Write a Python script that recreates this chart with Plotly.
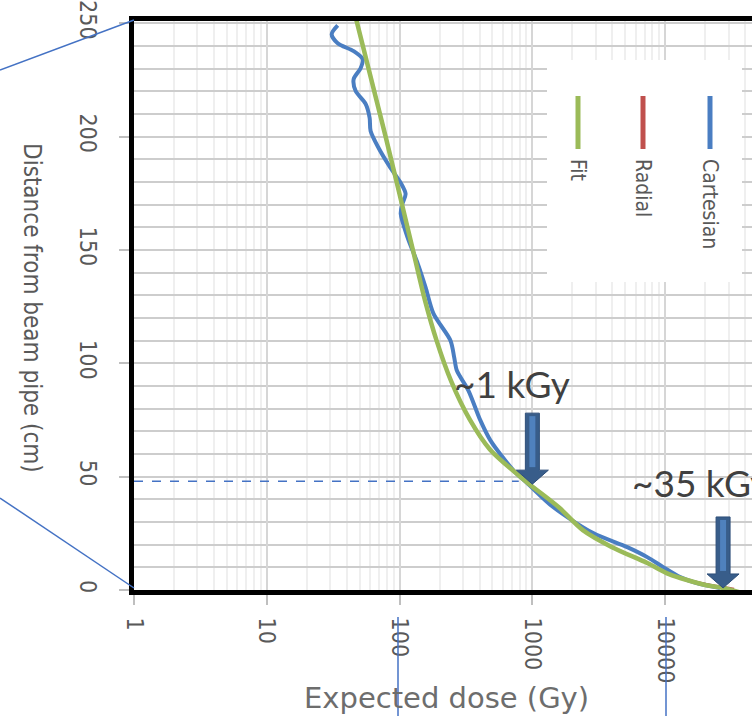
import math
import plotly.graph_objects as go

# ---------------- data ----------------
series_names = ["Cartesian", "Radial", "Fit"]
series_colors = ["#4A7EC2", "#C0504D", "#9BBB59"]

cart_dose = [34.2, 30.8, 34.2, 45.1, 52.7, 50.9, 45.1, 46.7, 55.5, 59.5, 60.5, 69.5, 85.5,
             102, 111, 105, 102, 115, 137, 157, 180, 242, 258, 270, 330, 406, 483, 720,
             917, 1440, 2870, 5180, 7330, 9660, 12970, 17000, 25900]
cart_dist = [249.1, 245.2, 241.2, 237.7, 234.2, 230.2, 225.4, 220.1, 214.4, 208.2, 202.5,
             195.0, 186.2, 179.6, 174.7, 170.4, 166.0, 155.5, 144.0, 133.5, 121.9, 110.0,
             102.5, 96.8, 88.0, 74.8, 66.0, 52.8, 47.1, 36.5, 25.1, 18.9, 14.5, 10.1, 5.7,
             3.2, 0.9]

radial_dose = [47, 78.5, 126, 155, 190, 245, 339, 479, 890, 1580, 2400, 3980, 7330, 10700,
               13800, 20000, 28500, 33000]
radial_dist = [252, 200, 150, 128, 110, 92, 75, 62, 48, 36.5, 26.4, 18.9, 11.9, 7, 4.8, 2.6,
               1.0, 0.3]

fit_dose = [47, 78.5, 126, 155, 190, 245, 339, 479, 890, 1580, 2400, 3980, 7330, 10700,
            14600, 20900, 27300, 36300]
fit_dist = [252, 200, 150, 128, 110, 92, 75, 62, 48, 36.5, 26.4, 18.9, 11.9, 7, 4.4, 2,
            0.9, -1]

x_tick_vals = [1, 10, 100, 1000, 10000]
x_tick_text = ["1", "10", "100", "1000", "10000"]
y_tick_vals = [0, 50, 100, 150, 200, 250]

ref_line_dist = 48       # dashed reference line (cm)
ref_line_dose_end = 790  # where it meets the curve (Gy)

label_texts = ["~1 kGy", "~35 kGy"]
label_dose = [250, 5460]
label_dist = [91, 47.5]
arrow_tip_dose = [1000, 27300]
arrow_tip_dist = [46.7, 0.9]

# ---------------- layout helpers ----------------
W, H = 752, 716
ML, MR, MT, MB = 134, 0, 21, 126
PW, PH = W - ML - MR, H - MT - MB


def px(xp):
    return (xp - ML) / PW


def py(yp):
    return (H - MB - yp) / PH


NARROW = "Liberation Sans Narrow, DejaVu Sans Condensed, Roboto Condensed, Lato, sans-serif"
GRAY = "#595959"

fig = go.Figure()

fig.add_trace(go.Scatter(x=[1, ref_line_dose_end], y=[ref_line_dist, ref_line_dist],
                         mode="lines", line=dict(color="#4472C4", width=1.5, dash="dash"),
                         showlegend=False, hoverinfo="skip"))

for name, xs, ys, col, w in [
    (series_names[0], cart_dose, cart_dist, series_colors[0], 4),
    (series_names[1], radial_dose, radial_dist, series_colors[1], 3),
    (series_names[2], fit_dose, fit_dist, series_colors[2], 4.5),
]:
    fig.add_trace(go.Scatter(x=xs, y=ys, mode="lines", name=name,
                             line=dict(color=col, width=w, shape="spline", smoothing=0.8),
                             showlegend=False))

minor_x = [k * 10 ** e for e in range(0, 5) for k in range(2, 10)]

fig.update_xaxes(type="log", range=[0, 4.654], tickvals=x_tick_vals, ticktext=x_tick_text,
                 tickangle=90, tickfont=dict(family=NARROW, size=23, color=GRAY),
                 ticks="outside", ticklen=10, tickwidth=2, tickcolor="#BFBFBF",
                 showline=True, linecolor="black", linewidth=5, mirror=True,
                 showgrid=True, gridcolor="#D6D6D6", gridwidth=2,
                 minor=dict(tickmode="array", tickvals=minor_x, showgrid=True,
                            gridcolor="#EFEFEF", gridwidth=2, ticks=""),
                 ticklabelstandoff=8, ticklabeloverflow="allow",
                 zeroline=False, automargin=False)

fig.update_yaxes(range=[0, 251], tickvals=y_tick_vals, tickangle=90,
                 tickfont=dict(family=NARROW, size=23, color=GRAY),
                 ticks="outside", ticklen=10, tickwidth=2, tickcolor="#BFBFBF",
                 showline=True, linecolor="black", linewidth=5, mirror=False,
                 showgrid=True, gridcolor="#CDCDCD", gridwidth=2,
                 minor=dict(dtick=10, showgrid=True, gridcolor="#CDCDCD", gridwidth=2, ticks=""),
                 ticklabelstandoff=11, ticklabeloverflow="allow",
                 zeroline=False, automargin=False)

shapes = []
# legend box
shapes.append(dict(type="rect", xref="paper", yref="paper", x0=px(547), x1=px(742),
                   y0=py(282), y1=py(60), fillcolor="white", line=dict(width=0), layer="above"))
leg_x = [710, 643, 578]
for xp, col in zip(leg_x, series_colors):
    shapes.append(dict(type="line", xref="paper", yref="paper", x0=px(xp), x1=px(xp),
                       y0=py(96), y1=py(149), line=dict(color=col, width=5), layer="above"))

# zoom connector lines
conn = [((0, 70), (134, 20)), ((0, 498), (134, 588)), ((398, 617), (398, 716)),
        ((666, 617), (666, 716))]
for (a, b) in conn:
    shapes.append(dict(type="line", xref="paper", yref="paper", x0=px(a[0]), y0=py(a[1]),
                       x1=px(b[0]), y1=py(b[1]), line=dict(color="#4472C4", width=1.5),
                       layer="above"))

# block arrows
for d, c in zip(arrow_tip_dose, arrow_tip_dist):
    shapes.append(dict(type="path", xref="x", yref="y", xsizemode="pixel", ysizemode="pixel",
                       xanchor=d, yanchor=c,
                       path="M 0 0 L -16 14 L -7 14 L -7 71 L 7 71 L 7 14 L 16 14 Z",
                       fillcolor="#385D8A", line=dict(color="#2F4F79", width=1), layer="above"))
    shapes.append(dict(type="path", xref="x", yref="y", xsizemode="pixel", ysizemode="pixel",
                       xanchor=d, yanchor=c,
                       path="M -3 17 L -3 68 L 3 68 L 3 17 Z",
                       fillcolor="#4F81BD", line=dict(width=0), layer="above"))

annotations = []
for t, d, c in zip(label_texts, label_dose, label_dist):
    annotations.append(dict(x=math.log10(d), y=c, xref="x", yref="y", text=t, showarrow=False,
                            xanchor="left", yanchor="middle",
                            font=dict(family="Lato, sans-serif", size=37, color="#404040")))

for name, xp in zip(series_names, leg_x):
    annotations.append(dict(x=px(xp), y=py(157), xref="paper", yref="paper", text=name,
                            showarrow=False, textangle=90, xanchor="center", yanchor="top",
                            font=dict(family=NARROW, size=21, color=GRAY)))

annotations.append(dict(x=px(32), y=py(308), xref="paper", yref="paper",
                        text="Distance from beam pipe (cm)", showarrow=False, textangle=90,
                        xanchor="center", yanchor="middle",
                        font=dict(family=NARROW, size=24, color=GRAY)))
annotations.append(dict(x=px(446), y=py(698), xref="paper", yref="paper",
                        text="Expected dose (Gy)", showarrow=False,
                        xanchor="center", yanchor="middle",
                        font=dict(family="DejaVu Sans, sans-serif", size=29, color="#6d6d6d")))

fig.update_layout(width=W, height=H, margin=dict(l=ML, r=MR, t=MT, b=MB),
                  paper_bgcolor="white", plot_bgcolor="white", showlegend=False,
                  shapes=shapes, annotations=annotations)

fig.write_html("out.html", config={"displayModeBar": False},
               post_script="document.body.style.margin='0';")
